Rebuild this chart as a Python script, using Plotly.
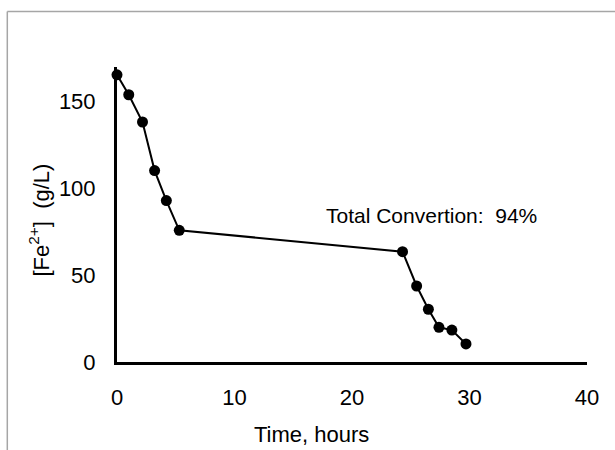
import plotly.graph_objects as go

time_h = [0, 1.0, 2.17, 3.2, 4.2, 5.3, 24.3, 25.5, 26.5, 27.4, 28.5, 29.7]
fe2 = [165.5, 154.0, 138.3, 110.3, 93.0, 75.9, 63.6, 43.8, 30.4, 20.0, 18.4, 10.4]

x_ticks = [0, 10, 20, 30, 40]
y_ticks = [0, 50, 100, 150]

FONT = "Liberation Sans, Arial, sans-serif"

fig = go.Figure()
fig.add_trace(go.Scatter(
    x=time_h, y=fe2, mode="lines+markers",
    line=dict(color="black", width=2),
    marker=dict(color="black", size=11),
    showlegend=False, cliponaxis=False,
))

fig.update_layout(
    width=615, height=450,
    margin=dict(l=117, r=28, t=67, b=88),
    paper_bgcolor="white", plot_bgcolor="white",
    font=dict(family=FONT, size=22, color="black"),
    xaxis=dict(range=[0, 40], tickvals=x_ticks, showgrid=False, zeroline=False,
               showline=True, linecolor="black", linewidth=3, ticks="",
               ticklabelstandoff=14, tickfont=dict(size=22)),
    yaxis=dict(range=[0, 170], tickvals=y_ticks, showgrid=False, zeroline=False,
               showline=True, linecolor="black", linewidth=3, ticks="",
               ticklabelstandoff=14, tickfont=dict(size=22)),
    annotations=[
        dict(text="Total Convertion:  94%", x=26.75, y=84.7, xref="x", yref="y",
             xanchor="center", yanchor="middle",
             showarrow=False, font=dict(size=21)),
        dict(text="Time, hours", x=0.414, y=-0.247, xref="paper", yref="paper",
             xanchor="center", yanchor="middle",
             showarrow=False, font=dict(size=22)),
        dict(text="[Fe<sup>2+</sup>]  (g/L)", x=-0.165, y=0.481, xref="paper", yref="paper",
             xanchor="center", yanchor="middle",
             showarrow=False, textangle=-90, font=dict(size=22)),
    ],
    shapes=[
        dict(type="line", xref="paper", yref="paper", x0=-0.2334, x1=1.07, y0=1.188, y1=1.188,
             line=dict(color="#a6a6a6", width=1.5)),
        dict(type="line", xref="paper", yref="paper", x0=-0.2334, x1=-0.2334, y0=1.188, y1=-0.31,
             line=dict(color="#a6a6a6", width=1.5)),
    ],
)

fig.write_html("out.html", config={"displayModeBar": False},
               post_script="document.body.style.margin='0';")
